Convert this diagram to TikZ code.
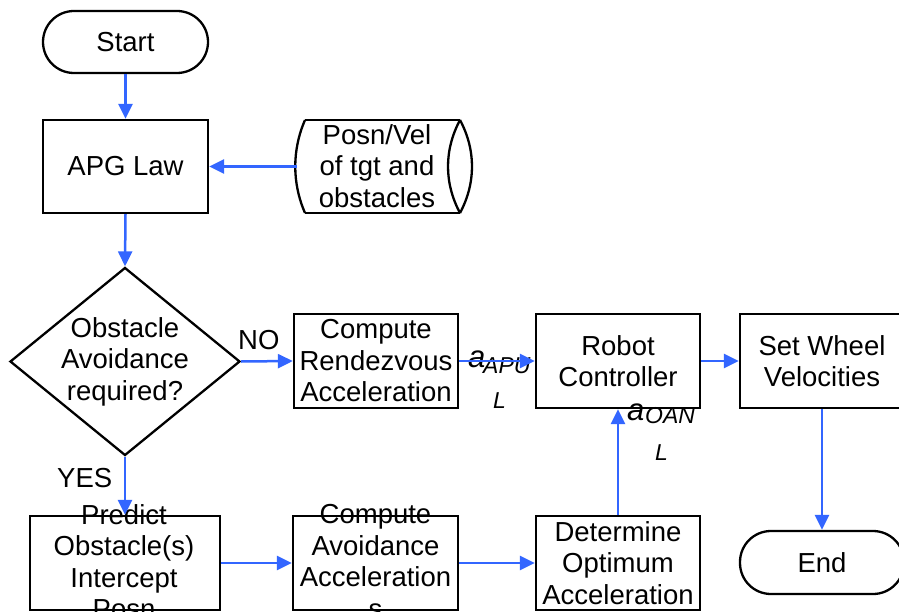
\documentclass[tikz,border=0pt]{standalone}
\usepackage{fontspec}
\setmainfont{Liberation Sans}
\usetikzlibrary{arrows.meta,shapes.geometric}
\newcommand\bigtxt{\fontsize{27.5}{31.5}\selectfont}
\newcommand\atxt{\fontsize{31}{34}\selectfont}
\newcommand\subtxt{\fontsize{23}{25}\selectfont}
\begin{document}
\begin{tikzpicture}[x=1pt,y=-1pt,
  outl/.style={draw=black, line width=2.3pt},
  boxnode/.style={outl, rectangle, inner sep=0pt, minimum width=164pt, minimum height=94pt},
  term/.style={outl, rectangle, rounded corners=31pt, inner sep=0pt, minimum width=165pt, minimum height=62pt},
  txt/.style={align=center, inner sep=0pt, font=\bigtxt},
  flow/.style={color={rgb,255:red,51;green,102;blue,255}, line width=2.5pt, -{Triangle[length=15pt,width=14pt]}},
  lbl/.style={inner sep=0pt, font=\bigtxt}
]
\useasboundingbox (0,0) rectangle (899,612);

% nodes
\node[term] (start) at (125.5,42) {};
\node[txt] (starttxt) at (start.center) {Start};

\node[boxnode, minimum width=165pt, minimum height=93pt] (apg) at (125.5,166.5) {};
\node[txt] (apgtxt) at (apg.center) {APG Law};

% storage (direct access data) shape
\node[inner sep=0pt, minimum width=175pt, minimum height=93pt] (data) at (384.5,166.5) {};
\draw[line width=2.3pt] (305,120) -- (460,120);
\draw[line width=2.3pt] (305,213) -- (460,213);
\draw[line width=2.3pt] (305,120) .. controls (292,150) and (292,183) .. (305,213);
\draw[line width=2.3pt] (460,120) .. controls (444,150) and (444,183) .. (460,213);
\draw[line width=2.3pt] (460,120) .. controls (476,150) and (476,183) .. (460,213);
\node[txt] (datatxt) at (377,166) {Posn/Vel\\of tgt and\\obstacles};

\node[outl, diamond, inner sep=0pt, minimum width=230pt, minimum height=188pt] (dec) at (125,361.5) {};
\node[txt] (dectxt) at (dec.center) {Obstacle\\Avoidance\\required?};

\node[boxnode] (rend) at (376,361) {};
\node[txt] (rendtxt) at (rend.center) {Compute\\Rendezvous\\Acceleration};

\node[boxnode] (robot) at (618,361) {};
\node[txt] (robottxt) at (robot.center) {Robot\\Controller};

\node[boxnode] (wheel) at (822,361) {};
\node[txt] (wheeltxt) at (wheel.center) {Set Wheel\\Velocities};

\node[term, minimum width=164pt, minimum height=63pt] (end) at (822,562.5) {};
\node[txt] (endtxt) at (end.center) {End};

\node[boxnode, minimum width=190pt] (pred) at (125,563) {};
\node[txt] (predtxt) at (124,561.5) {Predict\\Obstacle(s)\\Intercept\\Posn};

\node[boxnode, minimum width=165pt] (avoid) at (375.5,563) {};
\node[txt] (avoidtxt) at (375.5,561.5) {Compute\\Avoidance\\Acceleration\\s};

\node[boxnode] (det) at (618,563) {};
\node[txt] (dettxt) at (det.center) {Determine\\Optimum\\Acceleration};

% connector labels
\node[lbl, anchor=base west] (noL) at (238,349) {NO};
\node[lbl, anchor=base west] (yesL) at (57,487) {YES};

\node[lbl, anchor=base west, font=\atxt] (a1) at (468,367) {\itshape a};
\node[lbl, anchor=base west, font=\subtxt] (a1s) at (483,373) {\itshape APU};
\node[lbl, anchor=base west, font=\subtxt] (a1l) at (493,408) {\itshape L};

\node[lbl, anchor=base west, font=\atxt] (a2) at (627,420) {\itshape a};
\node[lbl, anchor=base west, font=\subtxt] (a2s) at (645,423) {\itshape OAN};
\node[lbl, anchor=base west, font=\subtxt] (a2l) at (655,460) {\itshape L};

% connectors
\draw[flow] (start.south) -- (apg.north);
\draw[flow] (apg.south) -- (dec.north);
\draw[flow] (data.west) -- (apg.east);
\draw[flow] (dec.east) -- (rend.west);
\draw[flow] (rend.east) -- (robot.west);
\draw[flow] (robot.east) -- (wheel.west);
\draw[flow] (wheel.south) -- (end.north);
\draw[flow] (dec.south) -- (pred.north);
\draw[flow] (pred.east) -- (avoid.west);
\draw[flow] (avoid.east) -- (det.west);
\draw[flow] (det.north) -- (robot.south);
\end{tikzpicture}
\end{document}
